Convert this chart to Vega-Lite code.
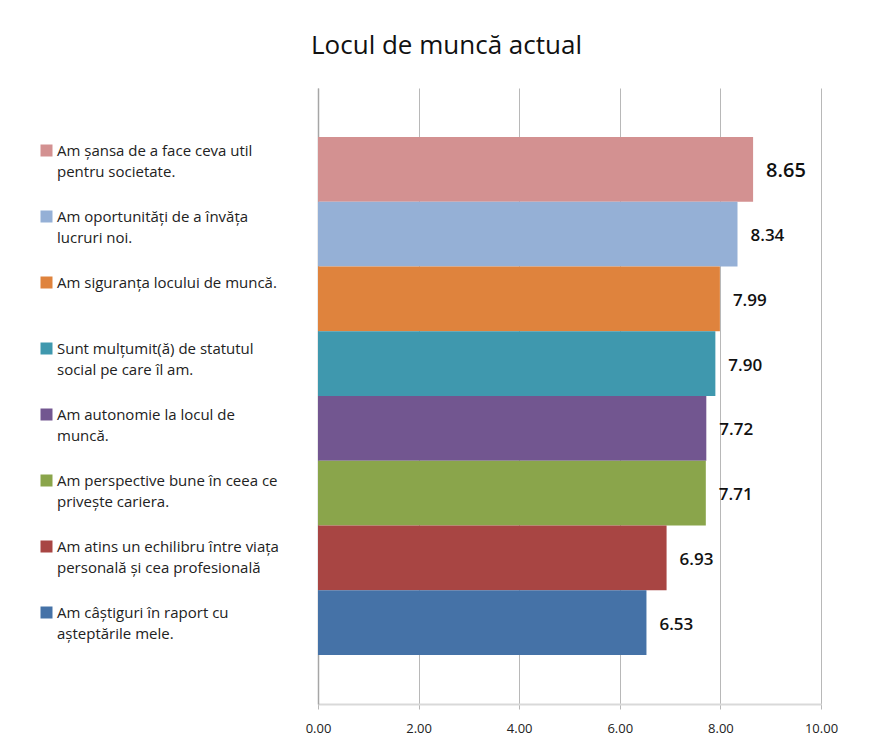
{
  "$schema": "https://vega.github.io/schema/vega-lite/v6.json",
  "width": 503,
  "height": 616,
  "autosize": {"type": "none"},
  "padding": {"left": 318, "top": 88, "right": 60, "bottom": 50},
  "background": "white",
  "title": {
    "text": "Locul de muncă actual",
    "font": "Open Sans",
    "fontSize": 26,
    "fontWeight": "normal",
    "color": "#111111",
    "anchor": "middle",
    "dx": -123,
    "baseline": "alphabetic",
    "offset": 8
  },
  "data": {
    "values": [
      {"item": "Am șansa de a face ceva util|pentru societate.", "value": 8.65},
      {"item": "Am oportunități de a învăța|lucruri noi.", "value": 8.34},
      {"item": "Am siguranța locului de muncă.| ", "value": 7.99},
      {"item": "Sunt mulțumit(ă) de statutul|social pe care îl am.", "value": 7.90},
      {"item": "Am autonomie la locul de|muncă.", "value": 7.72},
      {"item": "Am perspective bune în ceea ce|privește cariera.", "value": 7.71},
      {"item": "Am atins un echilibru între viața|personală și cea profesională", "value": 6.93},
      {"item": "Am câștiguri în raport cu|așteptările mele.", "value": 6.53}
    ]
  },
  "encoding": {
    "y": {
      "field": "item",
      "type": "nominal",
      "sort": null,
      "scale": {"paddingInner": 0, "paddingOuter": 0.757},
      "axis": {
        "labels": false,
        "ticks": false,
        "title": null,
        "grid": false,
        "domain": true,
        "domainColor": "#A6A6A6",
        "domainWidth": 1.5
      }
    },
    "x": {
      "field": "value",
      "type": "quantitative",
      "scale": {"domain": [0, 10], "nice": false},
      "axis": {
        "values": [0, 2, 4, 6, 8, 10],
        "format": ".2f",
        "title": null,
        "grid": true,
        "gridColor": "#B8B8B8",
        "gridWidth": 1,
        "domainColor": "#D9D9D9",
        "domainWidth": 2,
        "tickColor": "#B8B8B8",
        "tickSize": 5,
        "labelFlush": false,
        "labelFont": "Open Sans",
        "labelFontSize": 13,
        "labelColor": "#222222",
        "labelPadding": 13
      }
    }
  },
  "layer": [
    {
      "mark": {"type": "bar"},
      "encoding": {
        "color": {
          "field": "item",
          "type": "nominal",
          "sort": null,
          "scale": {
            "range": ["#D39191", "#95B0D6", "#DF833D", "#3F98AE", "#725690", "#8AA54B", "#A84543", "#4572A7"]
          },
          "legend": {
            "orient": "none",
            "legendX": -279,
            "legendY": 55,
            "title": null,
            "padding": 0,
            "symbolType": "square",
            "symbolSize": 144,
            "symbolStrokeWidth": 0,
            "labelFont": "Open Sans",
            "labelFontSize": 15,
            "labelColor": "#222222",
            "labelLimit": 400,
            "labelOffset": 3,
            "rowPadding": 29,
            "labelExpr": "split(datum.label, '|')"
          }
        }
      }
    },
    {
      "mark": {
        "type": "text",
        "align": "left",
        "baseline": "middle",
        "dx": 13,
        "dy": 2,
        "font": "Open Sans",
        "fontWeight": 600,
        "color": "#111111"
      },
      "encoding": {
        "text": {"field": "value", "type": "quantitative", "format": ".2f"},
        "size": {"condition": {"test": "datum.value > 8.5", "value": 20}, "value": 17}
      }
    }
  ],
  "config": {
    "view": {"stroke": null},
    "style": {"guide-label": {"lineHeight": 21}}
  }
}
